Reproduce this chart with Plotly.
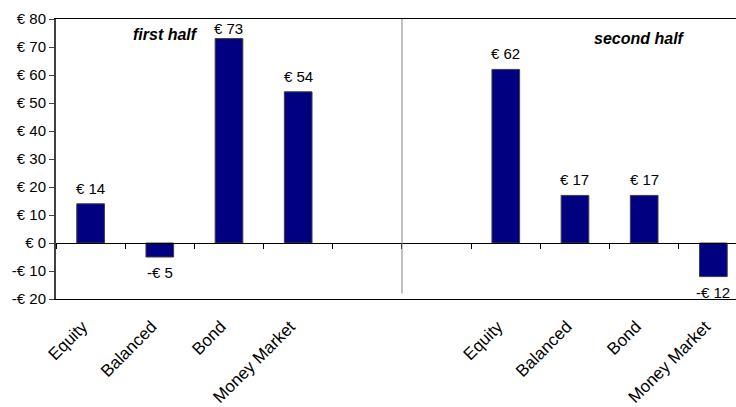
import plotly.graph_objects as go

categories = ["Equity", "Balanced", "Bond", "Money Market", "", "",
              "Equity", "Balanced", "Bond", "Money Market"]
values = [14, -5, 73, 54, None, None, 62, 17, 17, -12]
y_ticks = [-20, -10, 0, 10, 20, 30, 40, 50, 60, 70, 80]
half_titles = ["first half", "second half"]
divider_at = 4.5


def euro(v):
    return ("-€ " if v < 0 else "€ ") + str(abs(int(v)))


FONT = "Arial, Liberation Sans, sans-serif"
pos = list(range(len(categories)))
bx = [p for p, v in zip(pos, values) if v is not None]
bv = [v for v in values if v is not None]
tick_pos = [p for p, c in zip(pos, categories) if c]
tick_txt = [c for c in categories if c]

fig = go.Figure()
fig.add_trace(go.Bar(
    x=bx, y=bv, width=0.4,
    marker=dict(color="#000080", line=dict(color="#404040", width=1)),
    showlegend=False, hoverinfo="skip",
))
fig.add_trace(go.Scatter(x=[], y=[], xaxis="x2", yaxis="y", showlegend=False))

annotations = []
lab_font = dict(family=FONT, size=15, color="black")
for x, v in zip(bx, bv):
    if v > 70:
        annotations.append(dict(x=x, y=80, yanchor="top", yshift=1,
                                text=euro(v), showarrow=False, font=lab_font))
    else:
        annotations.append(dict(x=x, y=v, yanchor="bottom" if v >= 0 else "top",
                                yshift=5 if v >= 0 else -5,
                                text=euro(v), showarrow=False, font=lab_font))
annotations.append(dict(x=1.08, y=74.3, text="<b><i>" + half_titles[0] + "</i></b>",
                        showarrow=False, font=dict(family=FONT, size=16, color="black")))
annotations.append(dict(x=7.93, y=73.2, text="<b><i>" + half_titles[1] + "</i></b>",
                        showarrow=False, font=dict(family=FONT, size=16, color="black")))

fig.update_layout(
    width=736, height=407,
    margin=dict(l=56, r=0, t=19, b=108),
    paper_bgcolor="white", plot_bgcolor="white",
    font=dict(family=FONT, size=15, color="black"),
    annotations=annotations,
    shapes=[dict(type="line", xref="x", yref="y", x0=divider_at, x1=divider_at,
                 y0=-18, y1=80, line=dict(color="#808080", width=1))],
    xaxis=dict(range=[-0.5, 9.327], tickvals=tick_pos, ticktext=tick_txt,
               tickangle=-45, showline=True, mirror=True, linecolor="black",
               linewidth=1, ticks="", showgrid=False, zeroline=False,
               ticklabelstandoff=10, ticklabelshift=-8,
               tickfont=dict(family=FONT, size=17, color="black")),
    xaxis2=dict(overlaying="x", matches="x", anchor="free", position=0.2,
                side="bottom", tickvals=[p - 0.5 for p in pos],
                ticks="outside", ticklen=5, tickcolor="black", showline=True,
                linecolor="black", linewidth=1, showticklabels=False,
                showgrid=False, zeroline=False),
    yaxis=dict(range=[-20, 80], tickvals=y_ticks, ticktext=[euro(v) for v in y_ticks],
               showline=True, linecolor="#404040", linewidth=2, ticks="outside",
               ticklen=5, tickcolor="#404040", showgrid=False, zeroline=False,
               tickfont=dict(family=FONT, size=15, color="black")),
)

fig.write_html("out.html")
